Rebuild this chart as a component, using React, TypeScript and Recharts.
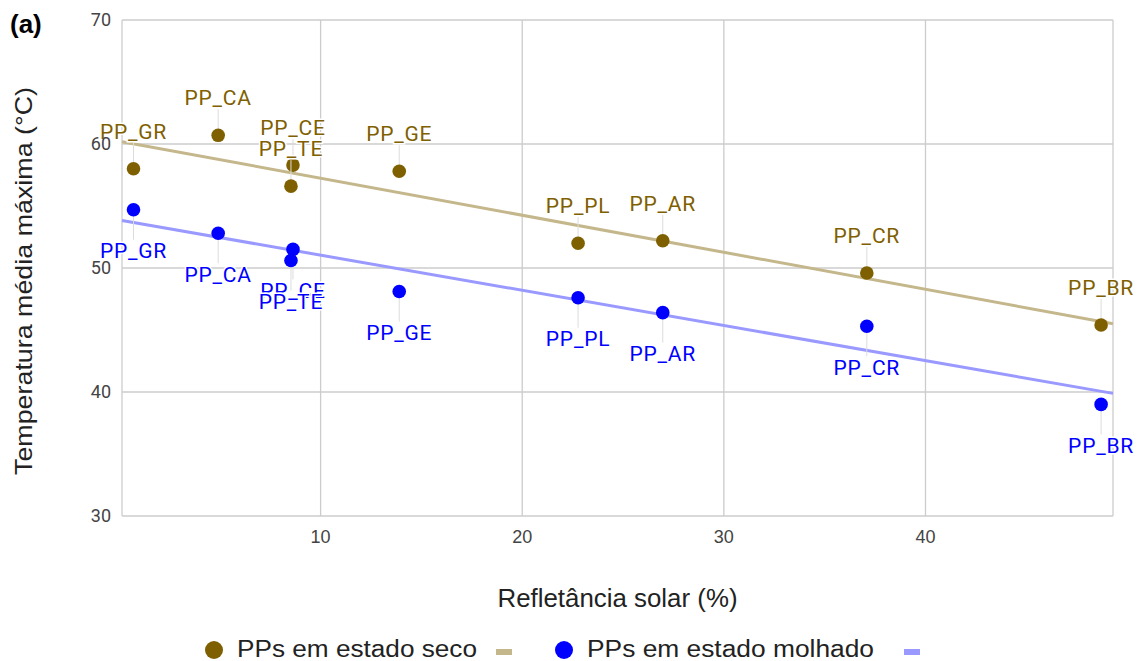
import { ScatterChart, Scatter, XAxis, YAxis, CartesianGrid, Label } from "recharts";

const categorias = ["PP_GR", "PP_CA", "PP_CE", "PP_TE", "PP_GE", "PP_PL", "PP_AR", "PP_CR", "PP_BR"];
const refletancia = [0.72, 4.92, 8.63, 8.53, 13.9, 22.77, 26.97, 37.09, 48.71];
const tempSeco = [58.0, 60.7, 58.3, 56.6, 57.8, 52.0, 52.2, 49.6, 45.4];
const tempMolhado = [54.7, 52.8, 51.5, 50.6, 48.1, 47.6, 46.4, 45.3, 39.0];

const ticksX = [10, 20, 30, 40];
const ticksY = [30, 40, 50, 60, 70];
const dominioX: [number, number] = [0.15, 49.3];
const dominioY: [number, number] = [30, 70];

const COR_SECO = "#7f6000";
const COR_MOLHADO = "#0000ff";
const COR_TEND_SECO = "#c5b78c";
const COR_TEND_MOLHADO = "#9999ff";
const ARIAL = "Arial, 'Liberation Sans', sans-serif";
const ROBOTO = "Roboto, Arial, sans-serif";

// regressao linear simples (linha de tendencia)
function ajuste(xs: number[], ys: number[]) {
  const n = xs.length;
  const mx = xs.reduce((a, b) => a + b, 0) / n;
  const my = ys.reduce((a, b) => a + b, 0) / n;
  let sxy = 0;
  let sxx = 0;
  xs.forEach((x, i) => {
    sxy += (x - mx) * (ys[i] - my);
    sxx += (x - mx) * (x - mx);
  });
  const a = sxy / sxx;
  return (x: number) => my + a * (x - mx);
}

const pontosSeco = categorias.map((name, i) => ({ name, x: refletancia[i], y: tempSeco[i] }));
const pontosMolhado = categorias.map((name, i) => ({ name, x: refletancia[i], y: tempMolhado[i] }));

const fSeco = ajuste(refletancia, tempSeco);
const fMolhado = ajuste(refletancia, tempMolhado);
const tendSeco = dominioX.map((x) => ({ x, y: fSeco(x) }));
const tendMolhado = dominioX.map((x) => ({ x, y: fMolhado(x) }));

// ponto + haste + rotulo (acima ou abaixo)
function pontoRotulado(cor: string, acima: boolean) {
  // eslint-disable-next-line @typescript-eslint/no-explicit-any
  return (props: any) => {
    const { cx, cy, payload } = props;
    if (cx == null || cy == null) return <g />;
    return (
      <g>
        <line x1={cx} x2={cx} y1={cy} y2={acima ? cy - 26 : cy + 30} stroke="#dcdcdc" strokeWidth={1} />
        <circle cx={cx} cy={cy} r={6.8} fill={cor} />
        <text
          x={cx}
          y={acima ? cy - 30 : cy + 48.5}
          textAnchor="middle"
          fontFamily={ROBOTO}
          fontSize={21}
          letterSpacing={0.8}
          fill={cor}
          stroke="#fff"
          strokeWidth={3}
          paintOrder="stroke"
        >
          {payload.name}
        </text>
      </g>
    );
  };
}

// eslint-disable-next-line @typescript-eslint/no-explicit-any
function TituloX({ viewBox }: any) {
  const vb = viewBox || { x: 122, y: 516, width: 991, height: 145 };
  return (
    <text
      x={vb.x + vb.width / 2}
      y={vb.y + 91}
      textAnchor="middle"
      fontFamily={ARIAL}
      fontSize={25}
      fill="#222"
      textLength={240}
      lengthAdjust="spacingAndGlyphs"
    >
      Refletância solar (%)
    </text>
  );
}

// eslint-disable-next-line @typescript-eslint/no-explicit-any
function TituloY({ viewBox }: any) {
  const vb = viewBox || { x: 0, y: 20, width: 122, height: 496 };
  const x = vb.x + 32;
  const y = vb.y + vb.height / 2 + 13;
  return (
    <text
      x={x}
      y={y}
      transform={`rotate(-90, ${x}, ${y})`}
      textAnchor="middle"
      fontFamily={ARIAL}
      fontSize={24}
      fill="#222"
      textLength={388}
      lengthAdjust="spacingAndGlyphs"
    >
      Temperatura média máxima (°C)
    </text>
  );
}

export default function App() {
  return (
    <div style={{ position: "absolute", left: 0, top: 0, width: 1147, height: 661, background: "#fff" }}>
      <ScatterChart width={1147} height={661} margin={{ top: 20, right: 34, bottom: 0, left: 0 }}>
        <CartesianGrid stroke="#cccccc" strokeWidth={1.3} />
        <XAxis
          type="number"
          dataKey="x"
          domain={dominioX}
          ticks={ticksX}
          axisLine={false}
          tickLine={false}
          tickMargin={8}
          height={145}
          tick={{ fontSize: 18, fill: "#444", fontFamily: ARIAL }}
          label={<Label content={<TituloX />} />}
        />
        <YAxis
          type="number"
          dataKey="y"
          domain={dominioY}
          ticks={ticksY}
          axisLine={false}
          tickLine={false}
          tickMargin={5}
          width={122}
          tick={{ fontSize: 18, fill: "#444", fontFamily: ROBOTO }}
          label={<Label content={<TituloY />} />}
        />
        <Scatter data={tendSeco} line={{ stroke: COR_TEND_SECO, strokeWidth: 3 }} shape={() => <g />} isAnimationActive={false} />
        <Scatter data={tendMolhado} line={{ stroke: COR_TEND_MOLHADO, strokeWidth: 3 }} shape={() => <g />} isAnimationActive={false} />
        <Scatter data={pontosSeco} shape={pontoRotulado(COR_SECO, true)} isAnimationActive={false} />
        <Scatter data={pontosMolhado} shape={pontoRotulado(COR_MOLHADO, false)} isAnimationActive={false} />
      </ScatterChart>
      <svg width={1147} height={661} style={{ position: "absolute", left: 0, top: 0, pointerEvents: "none" }}>
        <text x={10} y={33} fontFamily={ARIAL} fontWeight="bold" fontSize={26} fill="#000">(a)</text>
        <circle cx={214} cy={650} r={9} fill={COR_SECO} />
        <text x={237} y={657} fontFamily={ARIAL} fontSize={23} fill="#222" textLength={240} lengthAdjust="spacingAndGlyphs">
          PPs em estado seco
        </text>
        <rect x={496} y={649} width={16} height={6} fill={COR_TEND_SECO} />
        <circle cx={564} cy={650} r={9} fill={COR_MOLHADO} />
        <text x={587} y={657} fontFamily={ARIAL} fontSize={23} fill="#222" textLength={287} lengthAdjust="spacingAndGlyphs">
          PPs em estado molhado
        </text>
        <rect x={904} y={649} width={16} height={6} fill={COR_TEND_MOLHADO} />
      </svg>
    </div>
  );
}
